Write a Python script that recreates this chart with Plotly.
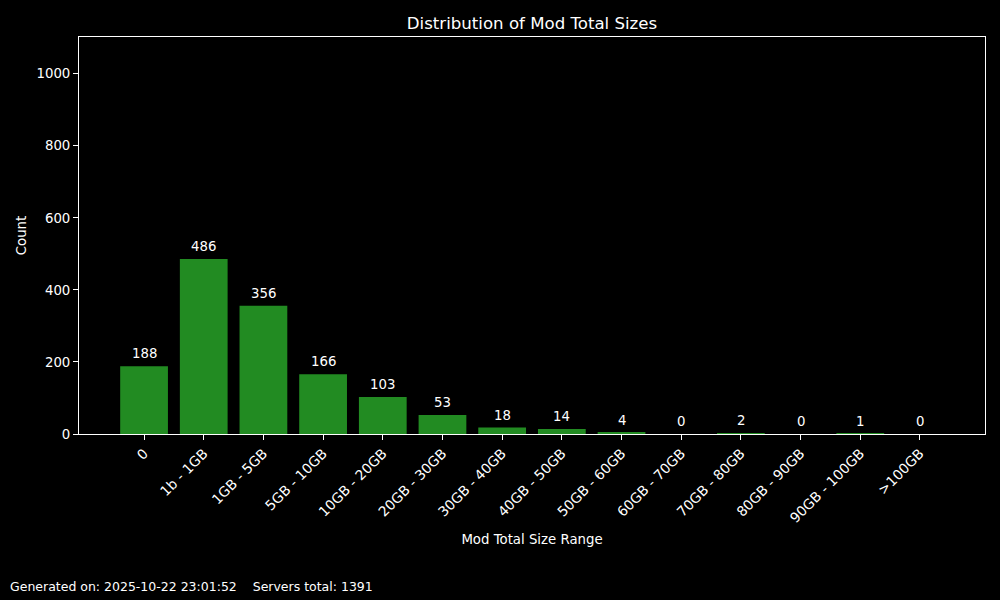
import plotly.graph_objects as go

categories = ["0", "1b - 1GB", "1GB - 5GB", "5GB - 10GB", "10GB - 20GB", "20GB - 30GB",
              "30GB - 40GB", "40GB - 50GB", "50GB - 60GB", "60GB - 70GB", "70GB - 80GB",
              "80GB - 90GB", "90GB - 100GB", ">100GB"]
counts = [188, 486, 356, 166, 103, 53, 18, 14, 4, 0, 2, 0, 1, 0]
footer_text = "Generated on: 2025-10-22 23:01:52    Servers total: 1391"

FONT = "DejaVu Sans"
xs = list(range(len(categories)))

fig = go.Figure()
fig.add_trace(go.Bar(x=xs, y=counts, width=0.8, marker=dict(color="#228B22", line=dict(width=0)),
                     showlegend=False, hoverinfo="skip"))

annotations = [dict(x=x, y=c, xref="x", yref="y", text=str(c), showarrow=False,
                    xanchor="center", yanchor="bottom", yshift=3,
                    font=dict(color="white", size=13.3, family=FONT))
               for x, c in zip(xs, counts)]
annotations.append(dict(text=footer_text, xref="paper", yref="paper", x=-0.0785, y=-0.385,
                        xanchor="left", yanchor="middle", showarrow=False,
                        font=dict(size=12.5, family=FONT, color="white")))

fig.update_layout(
    width=1000, height=600,
    paper_bgcolor="black", plot_bgcolor="black",
    margin=dict(l=79, r=15, t=37, b=166),
    font=dict(family=FONT, color="white", size=13.3),
    title=dict(text="Distribution of Mod Total Sizes", x=0.532, xanchor="center", y=0.962, yanchor="middle",
               font=dict(size=16.6, family=FONT, color="white")),
    xaxis=dict(range=[-1.09, 14.09], tickmode="array", tickvals=xs, ticktext=categories,
               tickangle=-45, ticks="outside", ticklen=5, tickcolor="white", showgrid=False, zeroline=False,
               showline=True, linecolor="white", linewidth=1, mirror=True,
               tickfont=dict(size=13.8, family=FONT),
               title=dict(text="Mod Total Size Range", font=dict(size=13.3, family=FONT), standoff=9)),
    yaxis=dict(range=[0, 1102], tickmode="array", tickvals=[0, 200, 400, 600, 800, 1000],
               ticks="outside", ticklen=5, tickcolor="white", showgrid=False, zeroline=False,
               showline=True, linecolor="white", linewidth=1, mirror=True,
               title=dict(text="Count", font=dict(size=13.3, family=FONT), standoff=6)),
    annotations=annotations,
)

fig.write_html("out.html", config={"displayModeBar": False},
               post_script="document.body.style.margin='0';document.body.style.background='black';")
